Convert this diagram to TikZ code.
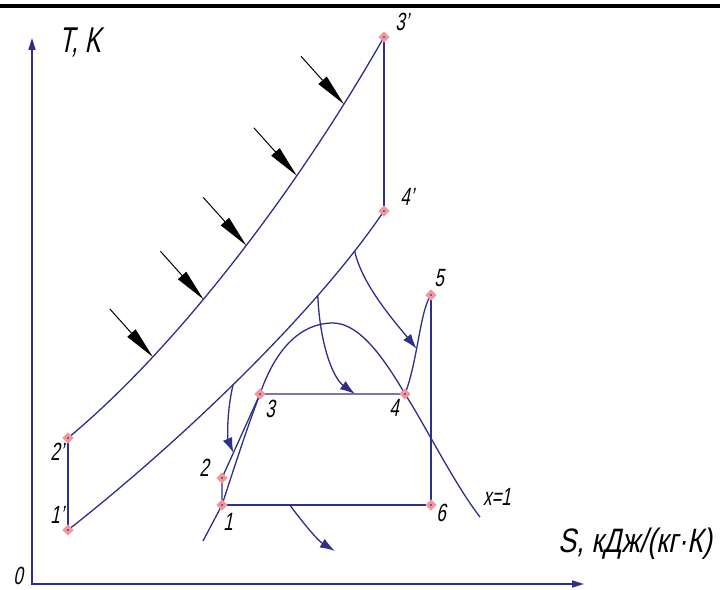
\documentclass[tikz,border=0pt]{standalone}
\usepackage{fontspec}
\newfontfamily\gost{Liberation Sans}[FakeSlant=0.2, FakeStretch=0.68]
\newfontfamily\gostwide{Liberation Sans}[FakeSlant=0.2, FakeStretch=0.8]
\usetikzlibrary{arrows.meta, shapes.geometric, calc}
\definecolor{cnavy}{HTML}{2E2E8C}
\definecolor{cpink}{HTML}{F296A0}
\tikzset{
  every picture/.style={line width=1.3bp},
  curve/.style={draw=cnavy},
  axis/.style={draw=cnavy, line width=1.6bp, {Triangle[length=12bp, width=7bp]}-{Triangle[length=12bp, width=7bp]}},
  flow/.style={draw=cnavy, -{Latex[length=15bp, width=10bp]}},
  heat/.style={draw=black, line width=1bp, -{Triangle[length=32bp, width=11bp]}},
  statept/.style={diamond, fill=cpink, minimum size=12bp, inner sep=0pt},
  lbl/.style={font=\gost\fontsize{25}{25}\selectfont, inner sep=0pt},
  biglbl/.style={font=\gost\fontsize{36}{36}\selectfont, inner sep=0pt},
}

\begin{document}
\begin{tikzpicture}[x=1bp, y=-1bp]
  \useasboundingbox (0,0) rectangle (720,590);
  \draw[line width=4bp] (0,6.5) -- (720,6.5);

  % axes
  \coordinate (o) at (32,584);
  \coordinate (ytip) at (32,38);
  \coordinate (xtip) at (584,584);
  \draw[axis] (ytip) -- (o) -- (xtip);

  % states
  \coordinate (s1p) at (68,530);
  \coordinate (s2p) at (68,438);
  \coordinate (s3p) at (384,37);
  \coordinate (s4p) at (384,211);
  \coordinate (s1) at (222,505);
  \coordinate (s2) at (222,478);
  \coordinate (s3) at (260,394);
  \coordinate (s4) at (405,394);
  \coordinate (s5) at (431,295);
  \coordinate (s6) at (431,505);

  % gas side: heating 2'-3', cooling 4'-1'
  \draw[curve] (s2p) .. controls (180,345) and (300,185) .. (s3p)
    coordinate[pos=0.25] (h1) coordinate[pos=0.4] (h2) coordinate[pos=0.53] (h3)
    coordinate[pos=0.69] (h4) coordinate[pos=0.85] (h5);
  \draw[curve] (s1p) .. controls (170,450) and (310,320) .. (s4p)
    coordinate[pos=0.49] (q1) coordinate[pos=0.75] (q2) coordinate[pos=0.88] (q3);
  \draw[curve] (s1p) -- (s2p);
  \draw[curve] (s3p) -- (s4p);

  % saturation line
  \coordinate (d0) at (203,541);
  \coordinate (dtop) at (333,323);
  \coordinate (d1) at (480,517);
  \draw[curve] (d0) -- (s1) .. controls (235,465) and (248,425) .. (s3)
    .. controls (275,350) and (300,323) .. (dtop)
    .. controls (360,323) and (385,360) .. (s4)
    .. controls (425,425) and (455,485) .. (d1);

  % steam cycle
  \draw[curve] (s1) -- (s2) -- (s3) -- (s4);
  \draw[curve] (s4) .. controls (418,360) and (420,310) .. (s5) coordinate[pos=0.4] (e3);
  \draw[curve] (s5) -- (s6) -- (s1) coordinate[pos=0.675] (q4);

  % heat flows
  \coordinate (e1) at ($(s2)!0.3!(s3)$);
  \coordinate (e2) at ($(s3)!0.655!(s4)$);
  \coordinate (e4) at (335,551);
  \draw[flow] (q1) .. controls (226,415) and (228,440) .. (e1);
  \draw[flow] (q2) .. controls (320,345) and (333,378) .. (e2);
  \draw[flow] (q3) .. controls (362,285) and (395,322) .. (e3);
  \draw[flow] (q4) .. controls (300,519) and (317,540) .. (e4);
  \foreach \n in {1,...,5}
    \draw[heat] ($(h\n)+(-43,-48)$) -- (h\n);

  \foreach \s in {s1p,s2p,s3p,s4p,s1,s2,s3,s4,s5,s6} {
    \node[statept] (m-\s) at (\s) {};
    \fill[cnavy!50!black] (\s) circle (0.9bp);
  }

  % labels
  \node[lbl] (l1p) at (57,515) {1’};
  \node[lbl] (l2p) at (57,452) {2’};
  \node[lbl] (l3p) at (402,22) {3’};
  \node[lbl] (l4p) at (407,197) {4’};
  \node[lbl] (l1) at (228,522) {1};
  \node[lbl] (l2) at (204,468) {2};
  \node[lbl] (l3) at (270,409) {3};
  \node[lbl] (l4) at (394,408) {4};
  \node[lbl] (l5) at (439,278) {5};
  \node[lbl] (l6) at (441,513) {6};
  \node[lbl] (lx) at (497,497) {x=1};
  \node[lbl] (l0) at (18,576) {0};
  \node[biglbl] (lT) at (80,42) {T, K};
  \node[biglbl, font=\gostwide\fontsize{34}{34}\selectfont] (lS) at (635,544) {S, кДж/(кг·К)};
\end{tikzpicture}
\end{document}
